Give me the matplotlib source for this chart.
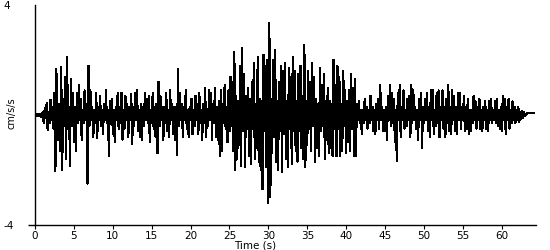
import numpy as np
import matplotlib
matplotlib.use('Agg')
import matplotlib.pyplot as plt
from matplotlib.ticker import FuncFormatter

# acceleration record, 8 samples per second (cm/s/s)
dt = 0.125
acc_rows = [
    [0.0, 0.02, -0.03, 0.03, -0.05, 0.04, -0.06, 0.08],
    [0.1, -0.3, 0.25, -0.1, 0.45, -0.55, 0.1, -0.3],
    [0.55, -0.2, 0.3, -0.5, 0.8, -2.05, 1.67, -0.3],
    [-0.9, 0.4, -1.3, 1.75, -2.0, 0.6, -0.4, 1.4],
    [-1.6, 2.1, -0.5, 0.3, -1.85, 1.3, -0.4, 0.8],
    [-1.0, 0.3, -1.3, 0.8, -0.3, 1.1, -0.2, 0.6],
    [-0.9, 0.2, -0.3, 0.9, -0.2, 0.4, -2.5, 1.8],
    [-0.4, 0.9, -0.2, 0.3, -0.8, 0.2, -0.3, 0.8],
    [-0.85, 0.3, -0.2, 0.7, -0.4, 0.2, -0.7, 0.4],
    [-0.2, 0.9, -0.3, 0.2, -1.5, 0.5, -0.3, 0.6],
    [-0.7, 0.2, -1.0, 0.3, -0.2, 0.8, -0.5, 0.3],
    [-0.3, 0.8, -0.9, 0.2, -0.5, 0.7, -0.2, 0.4],
    [-0.8, 0.3, -0.2, 0.75, -1.05, 0.3, -0.4, 0.8],
    [-0.2, 0.9, -0.6, 0.2, -0.8, 0.4, -0.9, 0.3],
    [-0.4, 0.8, -0.2, 0.6, -0.3, 0.7, -1.0, 0.2],
    [-0.3, 0.8, -0.5, 0.3, -0.8, 0.4, -1.4, 1.2],
    [-0.4, 0.7, -0.2, 0.3, -0.9, 0.3, -0.3, 0.8],
    [-0.6, 0.2, -0.8, 0.9, -0.2, 0.4, -0.7, 0.3],
    [-0.9, 0.3, -1.45, 1.67, -0.4, 0.8, -0.2, 0.4],
    [-0.8, 0.3, -0.2, 0.9, -0.5, 0.2, -0.8, 0.3],
    [-0.2, 0.6, -0.7, 0.2, -0.4, 0.7, -0.2, 0.4],
    [-0.7, 0.8, -0.3, 0.2, -0.9, 0.4, -0.3, 1.0],
    [-0.8, 0.2, -0.4, 0.9, -0.2, 0.8, -0.9, 0.4],
    [-0.3, 1.0, -0.8, 0.3, -0.9, 0.5, -1.5, 0.9],
    [-1.3, 0.4, -0.3, 1.1, -0.5, 0.3, -1.0, 0.9],
    [-0.6, 1.4, -0.4, 1.2, -1.3, 2.3, -2.0, 0.7],
    [-1.6, 0.5, -1.1, 1.8, -1.85, 2.45, -0.6, 1.5],
    [-1.9, 0.7, -0.5, 1.0, -1.5, 0.6, -1.8, 1.2],
    [-0.5, 1.9, -1.6, 0.4, -1.2, 2.1, -1.7, 0.6],
    [-2.0, 0.5, -2.7, 2.2, -0.6, 1.8, -1.9, 2.0],
    [-3.2, 3.35, -3.0, 0.6, -1.4, 2.0, -0.8, 2.35],
    [-1.7, 0.5, -2.0, 1.2, -0.6, 1.8, -2.07, 1.6],
    [-0.7, 1.9, -1.6, 0.5, -1.9, 1.7, -0.5, 1.4],
    [-1.8, 2.1, -0.6, 1.6, -1.3, 0.5, -1.7, 1.5],
    [-0.6, 1.8, -1.2, 0.7, -1.6, 2.55, -1.9, 0.5],
    [-1.1, 1.6, -0.5, 1.2, -1.3, 1.9, -0.4, 1.4],
    [-1.7, 0.6, -1.2, 0.4, -1.5, 1.7, -0.6, 1.1],
    [-0.4, 1.5, -1.6, 0.5, -0.9, 1.0, -1.4, 0.5],
    [-1.2, 0.4, -1.5, 2.0, -0.5, 1.1, -1.5, 1.8],
    [-0.5, 1.4, -1.5, 0.4, -1.3, 1.6, -0.4, 0.9],
    [-1.4, 0.5, -1.0, 0.9, -1.3, 1.5, -0.5, 1.0],
    [-1.5, 1.3, -1.5, 0.4, -0.2, 0.5, -0.3, 0.2],
    [-0.7, 0.2, -0.3, 0.6, -0.2, 0.3, -0.5, 0.2],
    [-0.3, 0.7, -0.2, 0.3, -0.6, 0.2, -0.7, 0.4],
    [-0.2, 0.6, -0.5, 1.1, -0.2, 0.3, -0.6, 0.2],
    [-0.6, 0.3, -0.9, 0.7, -0.2, 1.1, -0.4, 0.8],
    [-0.3, 0.6, -1.0, 0.2, -1.67, 0.8, -0.2, 1.1],
    [-0.8, 0.3, -0.2, 0.9, -0.5, 0.2, -0.4, 0.6],
    [-0.2, 0.7, -0.8, 1.1, -0.3, 0.9, -0.2, 0.3],
    [-0.5, 0.2, -0.9, 0.6, -0.2, 0.8, -1.2, 0.3],
    [-0.3, 0.6, -0.2, 0.8, -0.6, 0.3, -0.8, 0.9],
    [-0.2, 0.9, -0.7, 0.2, -0.4, 0.8, -0.3, 0.9],
    [-0.8, 0.3, -0.2, 0.9, -0.5, 0.3, -0.8, 0.6],
    [-0.3, 1.1, -0.6, 0.3, -0.7, 0.9, -0.2, 0.7],
    [-0.6, 0.3, -0.7, 0.8, -0.2, 0.8, -0.5, 0.3],
    [-0.2, 0.7, -0.6, 0.3, -0.5, 0.6, -0.7, 0.2],
    [-0.6, 0.2, -0.3, 0.7, -0.2, 0.5, -0.5, 0.3],
    [-0.2, 0.6, -0.5, 0.2, -0.6, 0.3, -0.2, 0.5],
    [-0.5, 0.2, -0.6, 0.5, -0.2, 0.6, -0.3, 0.2],
    [-0.2, 0.5, -0.3, 0.6, -0.4, 0.2, -0.5, 0.3],
    [-0.6, 0.7, -0.2, 0.6, -0.7, 0.3, -0.2, 0.6],
    [-0.5, 0.2, -0.3, 0.5, -0.2, 0.3, -0.3, 0.2],
    [-0.2, 0.3, -0.25, 0.1, -0.15, 0.15, -0.1, 0.1],
    [-0.05, 0.05, 0.05, 0.08, 0.08, 0.08, 0.08, 0.08],
    [0.08, 0.08],
]
acc = [v for row in acc_rows for v in row]
time = np.arange(len(acc)) * dt

x_ticks = list(range(0, 65, 5))
y_ticks = [-4, 4]


def main():
    fig = plt.figure(figsize=(5.5, 2.5), dpi=100)
    ax = fig.add_axes([0.0636, 0.1, 0.911, 0.88])

    ax.plot(time, acc, color='black', lw=0.8, antialiased=False)

    ax.set_xlim(0, 64.4)
    ax.set_ylim(-4, 4)
    ax.spines['top'].set_visible(False)
    ax.spines['right'].set_visible(False)
    ax.spines['left'].set_linewidth(1.0)
    ax.spines['bottom'].set_linewidth(1.0)

    ax.set_xticks(x_ticks)
    ax.set_yticks(y_ticks)
    ax.yaxis.set_major_formatter(FuncFormatter(lambda v, p: '%d' % v))
    ax.tick_params(axis='x', length=3, width=0.8, pad=1, labelsize=7.5)
    ax.tick_params(axis='y', length=5, width=1.0, pad=18, labelsize=7.5)
    for lab in ax.get_yticklabels():
        lab.set_horizontalalignment('left')
    ax.yaxis.get_major_ticks()[1].tick1line.set_visible(False)

    ax.set_ylabel('cm/s/s', fontsize=7)
    ax.yaxis.set_label_coords(-0.036, 0.51)
    ax.set_xlabel('Time (s)', fontsize=7.5)
    ax.xaxis.set_label_coords(0.44, -0.07)

    fig.savefig('out.png', dpi=100)


if __name__ == "__main__":
    main()
